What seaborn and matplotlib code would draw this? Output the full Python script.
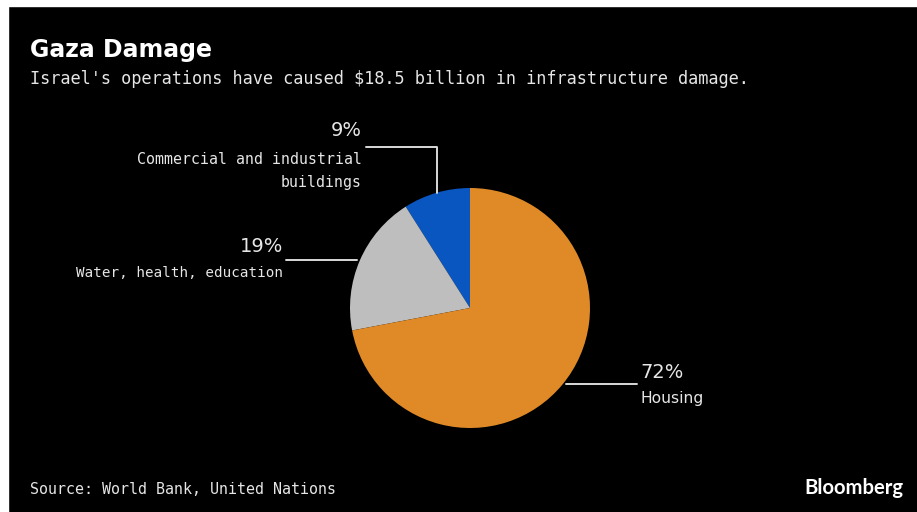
import matplotlib
matplotlib.use("Agg")
import matplotlib.pyplot as plt
from matplotlib.lines import Line2D
from matplotlib.patches import Rectangle
import seaborn as sns

# ---- data ----
categories = ["Commercial and industrial\nbuildings", "Water, health, education", "Housing"]
shares = [9, 19, 72]
pct_labels = ["9%", "19%", "72%"]
slice_colors = ["#0a56c0", "#bebebe", "#df8a27"]

title = "Gaza Damage"
subtitle = "Israel's operations have caused $18.5 billion in infrastructure damage."
source = "Source: World Bank, United Nations"
brand = "Bloomberg"

sns.set_theme(style="white")
plt.rcParams["font.family"] = ["DejaVu Sans"]

W, H = 917, 512
fig = plt.figure(figsize=(W / 100, H / 100), dpi=100, facecolor="black")

def fx(x):
    return x / W

def fy(y):
    return 1 - y / H

# white frame strips at top and left (as in screenshot)
fig.add_artist(Rectangle((0, fy(6)), 1, 6 / H, transform=fig.transFigure, color="white", zorder=5))
fig.add_artist(Rectangle((0, 0), 8 / W, 1, transform=fig.transFigure, color="white", zorder=5))

# pie
cx, cy, r = 470, 308, 120
ax = fig.add_axes([fx(cx - r), fy(cy + r), 2 * r / W, 2 * r / H])
ax.set_facecolor("black")
palette = sns.color_palette(slice_colors)
ax.pie(shares, colors=palette, startangle=90, counterclock=True,
       wedgeprops=dict(linewidth=0))
ax.set_xlim(-1, 1)
ax.set_ylim(-1, 1)
ax.set_aspect("auto")
ax.axis("off")

txt = "#e6e6e6"
linec = "#d9d9d9"
mono = "DejaVu Sans Mono"

# title / subtitle
fig.text(fx(30), fy(50), title, color="white", fontsize=17, fontweight="bold",
         ha="left", va="center", family="DejaVu Sans")
fig.text(fx(30), fy(79), subtitle, color=txt, fontsize=12.2, ha="left", va="center",
         family=mono)

def line(xs, ys):
    fig.add_artist(Line2D([fx(x) for x in xs], [fy(y) for y in ys],
                          transform=fig.transFigure, color=linec, lw=1.4))

# 9% label
line([366, 437, 437], [147, 147, 193])
fig.text(fx(362), fy(131), pct_labels[0], color=txt, fontsize=14, ha="right", va="center")
for i, part in enumerate(categories[0].split("\n")):
    fig.text(fx(362), fy(160 + 23 * i), part, color=txt, fontsize=10.7, ha="right",
             va="center", family=mono)

# 19% label
line([286, 357], [260, 260])
fig.text(fx(283), fy(246), pct_labels[1], color=txt, fontsize=14, ha="right", va="center")
fig.text(fx(283), fy(273), categories[1], color=txt, fontsize=10.3, ha="right",
         va="center", family=mono)

# 72% label
line([566, 637], [384, 384])
fig.text(fx(640), fy(372), pct_labels[2], color=txt, fontsize=14, ha="left", va="center")
fig.text(fx(640), fy(398), categories[2], color=txt, fontsize=11.2, ha="left", va="center")

# footer
fig.text(fx(30), fy(490), source, color=txt, fontsize=10.8, ha="left", va="center",
         family=mono)
fig.text(fx(903), fy(488), brand, color="white", fontsize=14.6, fontweight="bold",
         ha="right", va="center", family="Lato")

fig.savefig("out.png", dpi=100, facecolor="black")
